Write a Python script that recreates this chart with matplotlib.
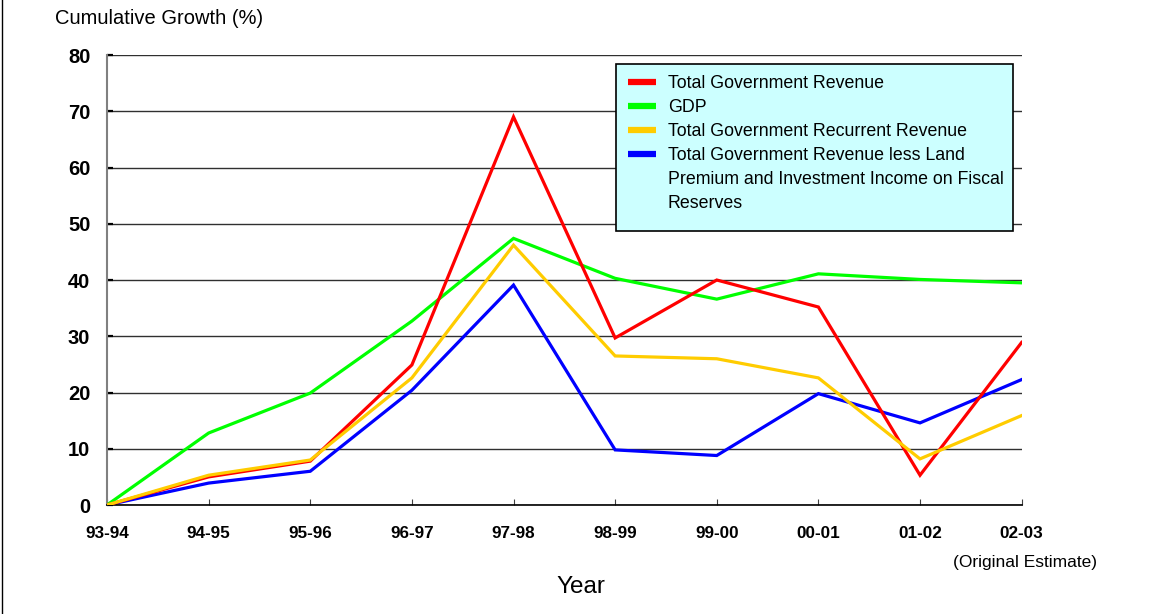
import matplotlib
matplotlib.use("Agg")
import matplotlib.pyplot as plt
from matplotlib.patches import Rectangle

plt.rcParams['font.family'] = ['Liberation Sans', 'DejaVu Sans']

# fiscal years and cumulative growth (%) since 93-94
years = ["93-94", "94-95", "95-96", "96-97", "97-98",
         "98-99", "99-00", "00-01", "01-02", "02-03"]
total_revenue = [0, 5.0, 7.8, 24.9, 69.0, 29.7, 40.0, 35.2, 5.3, 28.9]
gdp = [0, 12.8, 19.9, 32.7, 47.4, 40.3, 36.6, 41.1, 40.1, 39.5]
recurrent_revenue = [0, 5.3, 8.0, 22.6, 46.2, 26.5, 26.0, 22.6, 8.2, 15.9]
revenue_less_land = [0, 3.9, 6.0, 20.4, 39.1, 9.8, 8.8, 19.8, 14.6, 22.3]

labels = ["Total Government Revenue",
          "GDP",
          "Total Government Recurrent Revenue",
          "Total Government Revenue less Land\n"
          "Premium and Investment Income on Fiscal\nReserves"]
colours = ["#FF0000", "#00FF00", "#FFCC00", "#0000FF"]
yticks = [0, 10, 20, 30, 40, 50, 60, 70, 80]

W, H = 1157, 614
fig = plt.figure(figsize=(W / 100, H / 100), dpi=100)
ax = fig.add_axes([0.0925, 0.1775, 0.7905, 0.7329])

x = list(range(len(years)))
series = [total_revenue, gdp, recurrent_revenue, revenue_less_land]
zorders = [4, 3, 5, 2]
lines = []
for data, col, lab, z in zip(series, colours, labels, zorders):
    ln, = ax.plot(x, data, color=col, lw=2.3, label=lab, zorder=z,
                  solid_joinstyle='miter')
    lines.append(ln)

ax.set_xlim(0, len(years) - 1)
ax.set_ylim(0, 80)
ax.set_xticks(x)
ax.set_xticklabels(years, fontsize=12.3, fontweight='bold')
ax.set_yticks(yticks)
ax.set_yticklabels([str(v) for v in yticks], fontsize=14.5, fontweight='bold')
ax.tick_params(axis='x', direction='in', length=4.5, width=0.8,
               color='#404040', pad=15)
ax.tick_params(axis='y', direction='in', length=4, width=1.6,
               color='black', pad=12)

# horizontal grid only
ax.yaxis.grid(True, color='#303030', lw=1.0)
ax.set_axisbelow(True)
for side in ['top', 'right']:
    ax.spines[side].set_visible(False)
ax.spines['left'].set_color('#808080')
ax.spines['left'].set_linewidth(1.5)
ax.spines['bottom'].set_color('black')
ax.spines['bottom'].set_linewidth(1.2)

# legend box drawn separately so the padding can be uneven
fig.add_artist(Rectangle((616 / W, 1 - 231 / H), 397 / W, 167 / H,
                         transform=fig.transFigure, facecolor='#CCFFFF',
                         edgecolor='black', lw=1.2, zorder=9))
leg = fig.legend(handles=lines, loc='upper left',
                 bbox_to_anchor=(628 / W, 1 - 75 / H),
                 bbox_transform=fig.transFigure, fontsize=12.8,
                 frameon=False, handlelength=1.57, handletextpad=0.67,
                 labelspacing=0.4, borderpad=0, borderaxespad=0)
for h in leg.get_lines():
    h.set_linewidth(4.5)
    h.set_solid_capstyle('butt')
for t in leg.get_texts():
    t.set_linespacing(1.53)
# keep the blue handle level with the first line of its label
leg._legend_handle_box.get_children()[0].get_children()[-1].align = "top"
leg.set_zorder(10)

fig.text(55 / W, 1 - 18 / H, "Cumulative Growth (%)", fontsize=14.5,
         ha='left', va='center')
fig.text(581 / W, 1 - 587 / H, "Year", fontsize=17.5,
         ha='center', va='center')
fig.text(1025 / W, 1 - 562 / H, "(Original Estimate)", fontsize=12.5,
         ha='center', va='center')

# thin frame line down the left edge
fig.add_artist(plt.Line2D([2 / W, 2 / W], [0, 1], color='black',
                          lw=1.0, transform=fig.transFigure))

fig.savefig("out.png", dpi=100)
